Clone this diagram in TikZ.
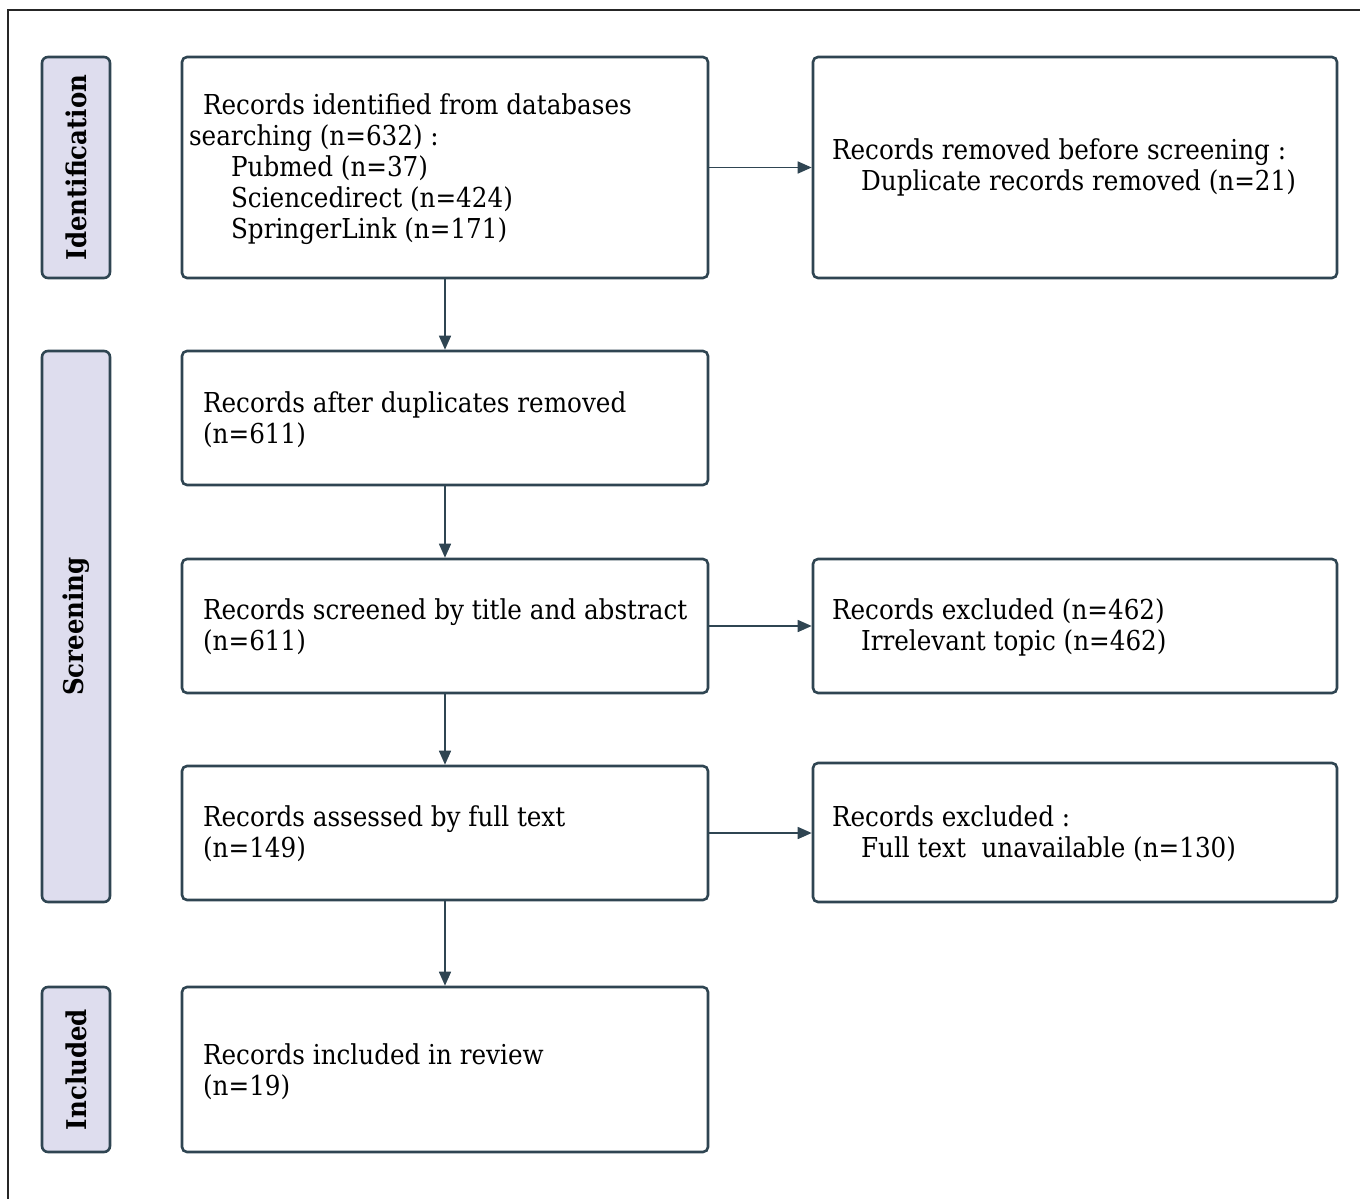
\documentclass[tikz,border=0pt]{standalone}
\usepackage{fontspec}
\setmainfont{DejaVu Serif Condensed}
\usetikzlibrary{arrows.meta}
\definecolor{edge}{HTML}{2F4552}
\definecolor{tabfill}{HTML}{DEDDEE}
\begin{document}
\begin{tikzpicture}[x=0.5pt,y=-0.5pt,
  box/.style={draw=edge,line width=1.3pt,rounded corners=2.5pt,fill=white,inner sep=0pt},
  tab/.style={draw=edge,line width=1.3pt,rounded corners=3pt,fill=tabfill,inner sep=0pt,minimum width=34pt},
  tabtxt/.style={rotate=90,font=\bfseries\fontsize{13.6}{15}\selectfont,inner sep=0pt},
  txt/.style={anchor=west,align=left,inner sep=0pt,font=\fontsize{13.7}{15.5}\selectfont},
  arr/.style={draw=edge,line width=0.8pt,-{Triangle[length=7pt,width=6pt]}}]
\useasboundingbox (0,0) rectangle (1360,1199);
\draw[line width=0.6pt,black!85] (1360,10) -- (8,10) -- (8,1199);
% tabs
\node[tab,minimum height=110.5pt] (t1) at (76,167.5) {};
\node[tabtxt] (t1l) at (t1.center) {Identification};
\node[tab,minimum height=275.5pt] (t2) at (76,626.5) {};
\node[tabtxt] (t2l) at (t2.center) {Screening};
\node[tab,minimum height=82.5pt] (t3) at (76,1069.5) {};
\node[tabtxt] (t3l) at (t3.center) {Included};
% left boxes
\node[box,minimum width=263pt,minimum height=110.5pt] (b1) at (445,167.5) {};
\node[box,minimum width=263pt,minimum height=67pt] (b2) at (445,418) {};
\node[box,minimum width=263pt,minimum height=67pt] (b3) at (445,626) {};
\node[box,minimum width=263pt,minimum height=67pt] (b4) at (445,833) {};
\node[box,minimum width=263pt,minimum height=82.5pt] (b5) at (445,1069.5) {};
% right boxes
\node[box,minimum width=262pt,minimum height=110.5pt] (r1) at (1075,167.5) {};
\node[box,minimum width=262pt,minimum height=67pt] (r3) at (1075,626) {};
\node[box,minimum width=262pt,minimum height=69.5pt] (r4) at (1075,832.5) {};
% texts
\node[txt] (b1t) at ([xshift=4pt,yshift=-1pt]b1.west) {\hspace{7pt}Records identified from databases\\searching (n=632) :\\\hspace{21pt}Pubmed (n=37)\\\hspace{21pt}Sciencedirect (n=424)\\\hspace{21pt}SpringerLink (n=171)};
\node[txt] (b2t) at ([xshift=11pt,yshift=-1pt]b2.west) {Records after duplicates removed\\(n=611)};
\node[txt] (b3t) at ([xshift=11pt,yshift=-0.5pt]b3.west) {Records screened by title and abstract\\(n=611)};
\node[txt] (b4t) at ([xshift=11pt,yshift=-0.5pt]b4.west) {Records assessed by full text\\(n=149)};
\node[txt] (b5t) at ([xshift=11pt,yshift=-1pt]b5.west) {Records included in review\\(n=19)};
\node[txt] (r1t) at ([xshift=10pt]r1.west) {Records removed before screening :\\\hspace{14.5pt}Duplicate records removed (n=21)};
\node[txt] (r3t) at ([xshift=10pt,yshift=-0.5pt]r3.west) {Records excluded (n=462)\\\hspace{14.5pt}Irrelevant topic (n=462)};
\node[txt] (r4t) at ([xshift=10pt,yshift=-0.5pt]r4.west) {Records excluded :\\\hspace{14.5pt}Full text\ \ unavailable (n=130)};
% arrows
\draw[arr] (b1) -- (b2);
\draw[arr] (b2) -- (b3);
\draw[arr] (b3) -- (b4);
\draw[arr] (b4) -- (b5);
\draw[arr] (b1.east) -- (b1.east -| r1.west);
\draw[arr] (b3.east) -- (b3.east -| r3.west);
\draw[arr] (b4.east) -- (b4.east -| r4.west);
\end{tikzpicture}
\end{document}
